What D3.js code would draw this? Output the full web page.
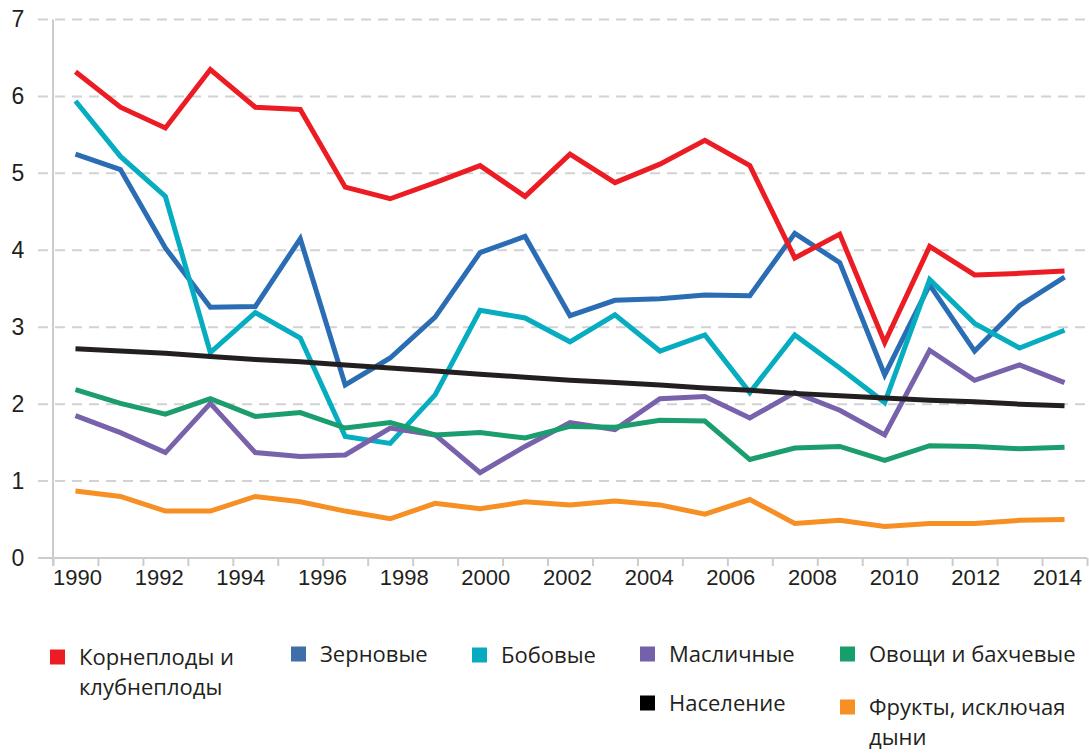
<!DOCTYPE html>
<html>
<head>
<meta charset="utf-8">
<script src="https://cdnjs.cloudflare.com/ajax/libs/d3/7.8.5/d3.min.js"></script>
<style>
  body { margin: 0; background: #fff; }
  svg { display: block; font-family: "Open Sans", "Noto Sans", sans-serif; }
  .tick text { fill: #231f20; }
</style>
</head>
<body>
<svg id="chart" width="1089" height="753"></svg>
<script>
'use strict';

// tick labels
var yearLabels = [1990, 1992, 1994, 1996, 1998, 2000, 2002, 2004, 2006, 2008, 2010, 2012, 2014];
var yTicks = [0, 1, 2, 3, 4, 5, 6, 7];

// series (23 points each)
var roots = [6.32, 5.86, 5.59, 6.35, 5.86, 5.83, 4.82, 4.67, 4.88, 5.10, 4.70, 5.25, 4.88, 5.12, 5.43, 5.10, 3.90, 4.21, 2.80, 4.05, 3.68, 3.70, 3.73];
var cereals = [5.25, 5.05, 4.03, 3.26, 3.27, 4.15, 2.25, 2.60, 3.13, 3.97, 4.18, 3.15, 3.35, 3.37, 3.42, 3.41, 4.22, 3.84, 2.38, 3.55, 2.69, 3.28, 3.65];
var pulses = [5.94, 5.22, 4.70, 2.67, 3.19, 2.86, 1.58, 1.49, 2.12, 3.22, 3.12, 2.81, 3.16, 2.69, 2.90, 2.15, 2.90, 2.47, 2.02, 3.62, 3.05, 2.73, 2.96];
var oilcrops = [1.85, 1.63, 1.37, 2.01, 1.37, 1.32, 1.34, 1.69, 1.60, 1.11, 1.45, 1.76, 1.67, 2.07, 2.10, 1.82, 2.15, 1.92, 1.60, 2.70, 2.31, 2.51, 2.28];
var vegetables = [2.19, 2.01, 1.87, 2.07, 1.84, 1.89, 1.69, 1.76, 1.60, 1.63, 1.56, 1.71, 1.70, 1.79, 1.78, 1.28, 1.43, 1.45, 1.27, 1.46, 1.45, 1.42, 1.44];
var fruits = [0.87, 0.80, 0.61, 0.61, 0.80, 0.73, 0.61, 0.51, 0.71, 0.64, 0.73, 0.69, 0.74, 0.69, 0.57, 0.76, 0.45, 0.49, 0.41, 0.45, 0.45, 0.49, 0.50];
var population = [2.72, 2.69, 2.66, 2.62, 2.58, 2.55, 2.51, 2.47, 2.43, 2.39, 2.35, 2.31, 2.28, 2.25, 2.21, 2.18, 2.14, 2.11, 2.08, 2.05, 2.03, 2.00, 1.98];

(function () {
    var series = [
        { name: 'Зерновые', values: cereals, color: '#2a6db5', swatch: '#3f6ea8' },
        { name: 'Бобовые', values: pulses, color: '#06adc0', swatch: '#07abc0' },
        { name: 'Масличные', values: oilcrops, color: '#7862ab', swatch: '#7561a9' },
        { name: 'Овощи и бахчевые', values: vegetables, color: '#1b9d6d', swatch: '#169f6a' },
        { name: 'Фрукты, исключая дыни', values: fruits, color: '#f68f24', swatch: '#f68f24' },
        { name: 'Население', values: population, color: '#231f20', swatch: '#000000' },
        { name: 'Корнеплоды и клубнеплоды', values: roots, color: '#ec1c24', swatch: '#ec1c24' }
    ];

    var svg = d3.select('#chart');
    var plot = { left: 53, right: 1087, top: 19.5, bottom: 558 };

    var n = roots.length;
    var x = d3.scaleBand().domain(d3.range(n)).range([plot.left, plot.right]).padding(0);
    var xEdge = d3.scaleLinear().domain([0, n]).range([plot.left, plot.right]);
    var xYear = d3.scaleLinear().domain([1990, 2014]).range([77, 1057]);
    var y = d3.scaleLinear().domain([0, 7]).range([plot.bottom, plot.top]);

    // dashed grid
    svg.append('g').selectAll('line').data(yTicks.slice(1)).enter().append('line')
        .attr('x1', 38).attr('x2', plot.right)
        .attr('y1', function (d) { return y(d); }).attr('y2', function (d) { return y(d); })
        .attr('stroke', '#d2d2d2').attr('stroke-width', 2).attr('stroke-dasharray', '10,7');

    // y axis
    var yAxis = svg.append('g').attr('transform', 'translate(' + plot.left + ',0)')
        .call(d3.axisLeft(y).tickValues(yTicks).tickSize(0).tickPadding(35).tickFormat(d3.format('d')));
    yAxis.select('.domain').remove();
    yAxis.selectAll('text').attr('font-size', 23).attr('text-anchor', 'middle');
    svg.append('line').attr('x1', plot.left).attr('x2', plot.left).attr('y1', plot.top).attr('y2', plot.bottom + 8)
        .attr('stroke', '#cccccc').attr('stroke-width', 2);

    // x axis: tick marks between categories, labels on the year scale
    var xTicks = svg.append('g').attr('transform', 'translate(0,' + plot.bottom + ')')
        .call(d3.axisBottom(xEdge).tickValues(d3.range(n + 1)).tickSize(8).tickFormat(''));
    xTicks.select('.domain').remove();
    xTicks.selectAll('line').attr('stroke', '#cccccc').attr('stroke-width', 2);
    svg.append('line').attr('x1', 38).attr('x2', plot.right).attr('y1', plot.bottom).attr('y2', plot.bottom)
        .attr('stroke', '#cccccc').attr('stroke-width', 2);

    var xLabels = svg.append('g').attr('transform', 'translate(0,' + plot.bottom + ')')
        .call(d3.axisBottom(xYear).tickValues(yearLabels).tickSize(0).tickPadding(11).tickFormat(d3.format('d')));
    xLabels.select('.domain').remove();
    xLabels.selectAll('text').attr('font-size', 22);

    // lines
    var line = d3.line()
        .x(function (d, i) { return x(i) + x.bandwidth() / 2; })
        .y(function (d) { return y(d); });

    svg.append('g').selectAll('path').data(series).enter().append('path')
        .attr('d', function (d) { return line(d.values); })
        .attr('fill', 'none')
        .attr('stroke', function (d) { return d.color; })
        .attr('stroke-width', 5)
        .attr('stroke-linejoin', 'miter');

    // legend
    var legendItems = [
        { s: 6, x: 50, y: 657, lines: ['Корнеплоды и', 'клубнеплоды'] },
        { s: 0, x: 291, y: 654, lines: ['Зерновые'] },
        { s: 1, x: 472, y: 655, lines: ['Бобовые'] },
        { s: 2, x: 640, y: 654, lines: ['Масличные'] },
        { s: 3, x: 840, y: 654, lines: ['Овощи и бахчевые'] },
        { s: 5, x: 640, y: 703, lines: ['Население'] },
        { s: 4, x: 840, y: 707, lines: ['Фрукты, исключая', 'дыни'] }
    ];

    var legend = svg.append('g').selectAll('g').data(legendItems).enter().append('g')
        .attr('transform', function (d) { return 'translate(' + d.x + ',' + d.y + ')'; });

    legend.append('rect')
        .attr('x', 0).attr('y', -7.5).attr('width', 15).attr('height', 15)
        .attr('fill', function (d) { return series[d.s].swatch; });

    legend.each(function (d) {
        var t = d3.select(this).append('text')
            .attr('x', 29).attr('y', 0)
            .attr('font-size', 22).attr('fill', '#231f20');
        d.lines.forEach(function (l, i) {
            t.append('tspan').attr('x', 29).attr('dy', i === 0 ? '0.35em' : 30).text(l);
        });
    });
})();
</script>
</body>
</html>
